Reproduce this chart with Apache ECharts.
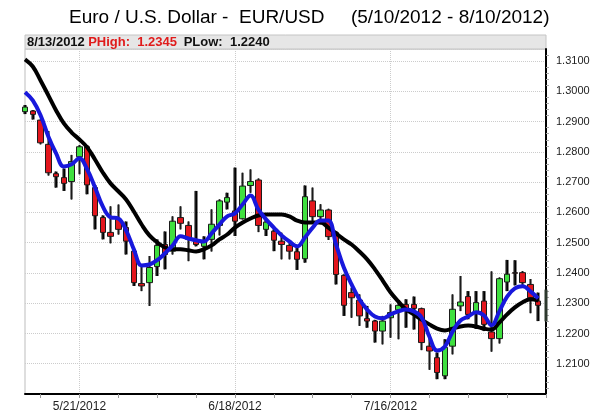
<!DOCTYPE html>
<html>
<head>
<meta charset="utf-8">
<script src="https://cdn.jsdelivr.net/npm/echarts@6/dist/echarts.min.js"></script>
<style>
  html, body { margin: 0; padding: 0; background: #fff; }
  #chart { width: 600px; height: 414px; }
</style>
</head>
<body>
<div id="chart"></div>
<script>
// trading days 5/10/2012 - 8/10/2012, plus the projected day 8/13
const dates = [
  '5/10/2012', '5/11/2012', '5/14/2012', '5/15/2012', '5/16/2012', '5/17/2012', '5/18/2012',
  '5/21/2012', '5/22/2012', '5/23/2012', '5/24/2012', '5/25/2012', '5/28/2012', '5/29/2012',
  '5/30/2012', '5/31/2012', '6/1/2012', '6/4/2012', '6/5/2012', '6/6/2012', '6/7/2012',
  '6/8/2012', '6/11/2012', '6/12/2012', '6/13/2012', '6/14/2012', '6/15/2012', '6/18/2012',
  '6/19/2012', '6/20/2012', '6/21/2012', '6/22/2012', '6/25/2012', '6/26/2012', '6/27/2012',
  '6/28/2012', '6/29/2012', '7/2/2012', '7/3/2012', '7/4/2012', '7/5/2012', '7/6/2012',
  '7/9/2012', '7/10/2012', '7/11/2012', '7/12/2012', '7/13/2012', '7/16/2012', '7/17/2012',
  '7/18/2012', '7/19/2012', '7/20/2012', '7/23/2012', '7/24/2012', '7/25/2012', '7/26/2012',
  '7/27/2012', '7/30/2012', '7/31/2012', '8/1/2012', '8/2/2012', '8/3/2012', '8/6/2012',
  '8/7/2012', '8/8/2012', '8/9/2012', '8/10/2012', '8/13/2012'
]

// only these dates get a label and a vertical grid line
const labelDates = ['5/21/2012', '6/18/2012', '7/16/2012']

const opens = [
  1.2933, 1.2935, 1.2905, 1.2825, 1.2728, 1.2715, 1.2702, 1.2784, 1.2817, 1.2682,
  1.2583, 1.2534, 1.2577, 1.2550, 1.2472, 1.2365, 1.2368, 1.2421, 1.2494, 1.2472,
  1.2583, 1.2557, 1.2505, 1.2488, 1.2511, 1.2557, 1.2634, 1.2605, 1.2579, 1.2689,
  1.2707, 1.2544, 1.2538, 1.2505, 1.2491, 1.2470, 1.2447, 1.2638, 1.2586, 1.2608,
  1.2533, 1.2392, 1.2335, 1.2310, 1.2249, 1.2241, 1.2208, 1.2252, 1.2278, 1.2296,
  1.2296, 1.2282, 1.2158, 1.2120, 1.2060, 1.2158, 1.2291, 1.2322, 1.2267, 1.2307,
  1.2205, 1.2183, 1.2370, 1.2401, 1.2401, 1.2362, 1.2307
]
const closes = [
  1.2948, 1.2924, 1.2830, 1.2731, 1.2718, 1.2696, 1.2768, 1.2817, 1.2691, 1.2589,
  1.2534, 1.2521, 1.2544, 1.2505, 1.2368, 1.2357, 1.2418, 1.2491, 1.2461, 1.2571,
  1.2564, 1.2511, 1.2494, 1.2505, 1.2561, 1.2638, 1.2649, 1.2571, 1.2687, 1.2702,
  1.2557, 1.2568, 1.2508, 1.2494, 1.2472, 1.2445, 1.2652, 1.2586, 1.2608, 1.2520,
  1.2395, 1.2293, 1.2318, 1.2258, 1.2241, 1.2208, 1.2241, 1.2269, 1.2293, 1.2280,
  1.2283, 1.2170, 1.2142, 1.2071, 1.2154, 1.2280, 1.2304, 1.2263, 1.2302, 1.2230,
  1.2183, 1.2381, 1.2396, 1.2399, 1.2368, 1.2318, 1.2293
]
const lows = [
  1.2925, 1.2907, 1.2825, 1.2722, 1.2682, 1.2671, 1.2643, 1.2726, 1.2660, 1.2544,
  1.2511, 1.2498, 1.2527, 1.2461, 1.2357, 1.2340, 1.2291, 1.2390, 1.2412, 1.2461,
  1.2544, 1.2439, 1.2488, 1.2445, 1.2471, 1.2524, 1.2610, 1.2522, 1.2577, 1.2665,
  1.2535, 1.2522, 1.2472, 1.2445, 1.2445, 1.2410, 1.2434, 1.2566, 1.2561, 1.2509,
  1.2362, 1.2258, 1.2252, 1.2225, 1.2219, 1.2170, 1.2164, 1.2186, 1.2181, 1.2219,
  1.2213, 1.2145, 1.2080, 1.2049, 1.2049, 1.2131, 1.2274, 1.2247, 1.2215, 1.2208,
  1.2140, 1.2167, 1.2340, 1.2359, 1.2357, 1.2267, 1.2241
]
const highs = [
  1.2955, 1.2938, 1.2907, 1.2869, 1.2735, 1.2745, 1.2790, 1.2823, 1.2822, 1.2690,
  1.2590, 1.2620, 1.2626, 1.2570, 1.2475, 1.2423, 1.2456, 1.2511, 1.2537, 1.2587,
  1.2620, 1.2570, 1.2671, 1.2521, 1.2610, 1.2643, 1.2665, 1.2748, 1.2731, 1.2742,
  1.2712, 1.2577, 1.2544, 1.2533, 1.2500, 1.2489, 1.2689, 1.2682, 1.2627, 1.2612,
  1.2538, 1.2395, 1.2351, 1.2329, 1.2291, 1.2245, 1.2258, 1.2296, 1.2307, 1.2313,
  1.2322, 1.2285, 1.2197, 1.2137, 1.2181, 1.2329, 1.2390, 1.2340, 1.2340, 1.2340,
  1.2405, 1.2385, 1.2443, 1.2442, 1.2406, 1.2380, 1.2335
]

// slow (black) and fast (blue) moving averages as drawn
const slowAvg = [
  1.3106, 1.3082, 1.3036, 1.2987, 1.2937, 1.2894, 1.2864, 1.2841, 1.2815, 1.2775,
  1.2732, 1.2696, 1.2670, 1.2643, 1.2603, 1.2560, 1.2524, 1.2501, 1.2484, 1.2478,
  1.2478, 1.2475, 1.2471, 1.2478, 1.2491, 1.2511, 1.2527, 1.2550, 1.2567, 1.2580,
  1.2590, 1.2593, 1.2593, 1.2593, 1.2587, 1.2573, 1.2567, 1.2567, 1.2567, 1.2550,
  1.2531, 1.2511, 1.2494, 1.2471, 1.2445, 1.2412, 1.2375, 1.2336, 1.2306, 1.2279,
  1.2263, 1.2246, 1.2230, 1.2216, 1.2210, 1.2216, 1.2223, 1.2226, 1.2223, 1.2216,
  1.2213, 1.2236, 1.2263, 1.2286, 1.2303, 1.2313, 1.2309
]
const fastAvg = [
  1.2997, 1.2970, 1.2921, 1.2851, 1.2795, 1.2752, 1.2759, 1.2779, 1.2742, 1.2683,
  1.2620, 1.2584, 1.2580, 1.2541, 1.2478, 1.2425, 1.2428, 1.2442, 1.2465, 1.2491,
  1.2521, 1.2514, 1.2508, 1.2504, 1.2531, 1.2560, 1.2587, 1.2597, 1.2627, 1.2656,
  1.2610, 1.2577, 1.2550, 1.2524, 1.2504, 1.2488, 1.2517, 1.2550, 1.2573, 1.2573,
  1.2494, 1.2418, 1.2362, 1.2313, 1.2279, 1.2256, 1.2250, 1.2263, 1.2273, 1.2279,
  1.2273, 1.2253, 1.2190, 1.2144, 1.2157, 1.2207, 1.2243, 1.2256, 1.2270, 1.2260,
  1.2227, 1.2273, 1.2322, 1.2349, 1.2356, 1.2339, 1.2316
]

// projected range for 8/13/2012
const pHigh = 1.2345
const pLow = 1.2240

const FONT = '"Liberation Sans", Arial, sans-serif'
const GREEN = '#3fe03f'
const RED = '#e3161d'

const chart = echarts.init(document.getElementById('chart'))

const candles = opens.map((o, i) => [o, closes[i], lows[i], highs[i]])
// thick black wicks drawn as thin bars from low to high
const wicks = opens.map((o, i) => [highs[i], lows[i], lows[i], highs[i]])
const projected = dates.map((d, i) => (i === dates.length - 1 ? [pHigh, pLow, pLow, pHigh] : '-'))

// weekly ticks on Mondays (5/14 is index 2)
const isMonday = (i) => (i - 2) % 5 === 0
const isLabelDay = (i) => labelDates.includes(dates[i])

const option = {
  backgroundColor: '#fff',
  animation: false,
  title: {
    text: 'Euro / U.S. Dollar -  EUR/USD     (5/10/2012 - 8/10/2012)',
    left: 64,
    top: 3,
    textStyle: { fontFamily: FONT, fontSize: 19, fontWeight: 'normal', color: '#000' },
  },
  graphic: [
    {
      type: 'rect',
      z: 0,
      shape: { x: 25, y: 35, width: 521, height: 14 },
      style: { fill: '#e6e6e6', stroke: '#c4c4c4', lineWidth: 1 },
    },
    {
      type: 'text',
      z: 1,
      left: 27,
      top: 36,
      style: {
        text: '{d|8/13/2012} {r|PHigh:  1.2345}  {d|PLow:  1.2240}',
        rich: {
          d: { fontFamily: FONT, fontSize: 13, fontWeight: 'bold', fill: '#111' },
          r: { fontFamily: FONT, fontSize: 13, fontWeight: 'bold', fill: '#e01b1b' },
        },
      },
    },
  ],
  grid: {
    left: 25,
    right: 54,
    top: 49,
    bottom: 20,
    show: true,
    borderColor: '#bdbdbd',
    borderWidth: 1,
  },
  xAxis: {
    type: 'category',
    data: dates,
    boundaryGap: false,
    axisLine: { lineStyle: { color: '#000', width: 2 } },
    axisTick: { interval: isMonday, length: 4, lineStyle: { color: '#999' } },
    axisLabel: {
      interval: isLabelDay,
      color: '#222',
      fontFamily: FONT,
      fontSize: 12,
      margin: 7,
    },
    splitLine: {
      show: true,
      interval: isLabelDay,
      lineStyle: { color: '#cccccc', type: 'dotted' },
    },
  },
  yAxis: {
    type: 'value',
    position: 'right',
    min: 1.2,
    max: 1.314,
    interval: 0.01,
    axisLine: { show: true, lineStyle: { color: '#000', width: 2 } },
    axisTick: { show: false },
    minorTick: { show: true, splitNumber: 5, length: 3, lineStyle: { color: '#aaa' } },
    axisLabel: {
      color: '#222',
      fontFamily: FONT,
      fontSize: 11,
      margin: 10,
      formatter: (v) =>
        Math.abs(v * 100 - Math.round(v * 100)) < 1e-6 && v > 1.205 ? v.toFixed(4) : '',
    },
    splitLine: { show: true, lineStyle: { color: '#cccccc', type: 'dotted' } },
  },
  series: [
    {
      type: 'candlestick',
      data: wicks,
      barWidth: 3,
      itemStyle: { color: '#000', color0: '#000', borderColor: '#000', borderColor0: '#000', borderWidth: 0 },
      silent: true,
    },
    {
      type: 'candlestick',
      data: candles,
      barWidth: 6,
      itemStyle: {
        color: GREEN,
        color0: RED,
        borderColor: '#1b1b1b',
        borderColor0: '#1b1b1b',
        borderWidth: 1,
      },
    },
    {
      type: 'candlestick',
      data: projected,
      barWidth: 3,
      clip: false,
      itemStyle: { color: '#2d382d', color0: '#2d382d', borderColor: '#2d382d', borderColor0: '#2d382d', borderWidth: 0 },
    },
    {
      type: 'line',
      data: slowAvg,
      smooth: 0.4,
      symbol: 'none',
      lineStyle: { color: '#000', width: 4 },
    },
    {
      type: 'line',
      data: fastAvg,
      smooth: 0.4,
      symbol: 'none',
      lineStyle: { color: '#1818dc', width: 4 },
    },
  ],
}

chart.setOption(option)
</script>
</body>
</html>
